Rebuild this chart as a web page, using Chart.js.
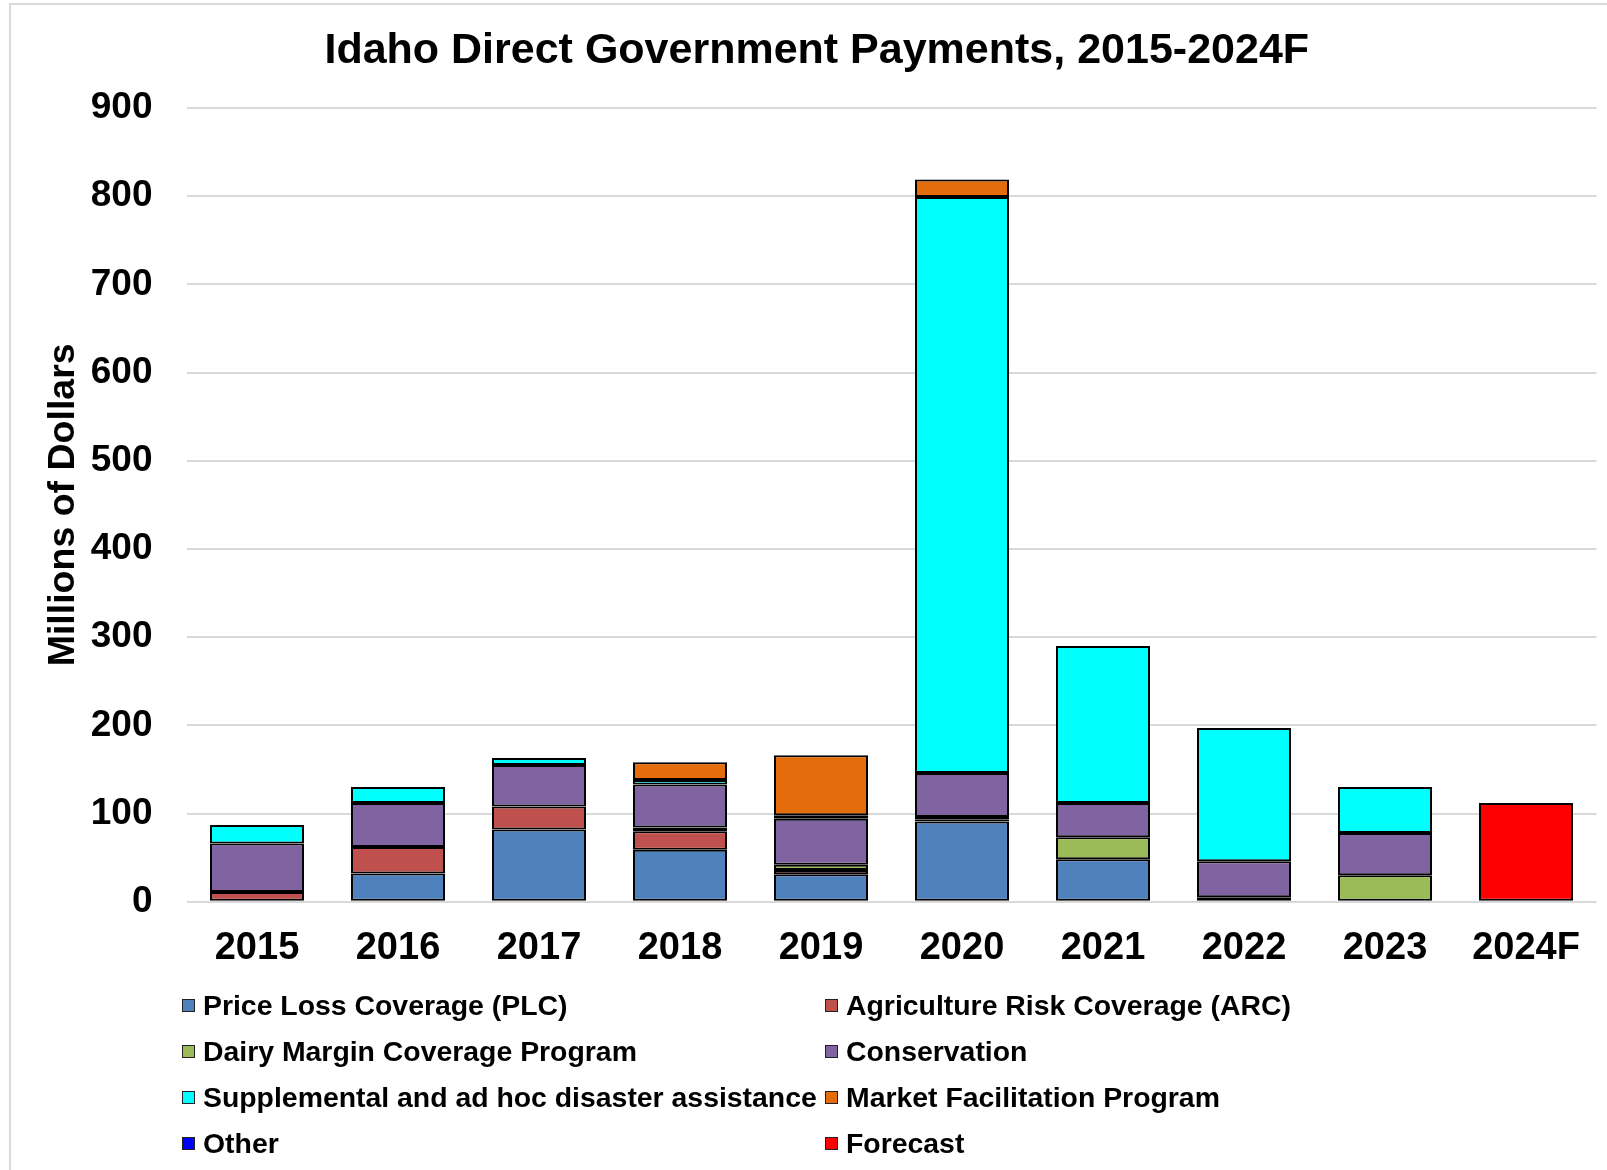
<!DOCTYPE html>
<html>
<head>
<meta charset="utf-8">
<script src="https://cdn.jsdelivr.net/npm/chart.js@4.4.1/dist/chart.umd.min.js"></script>
<style>
  html, body { margin: 0; padding: 0; background: #ffffff; }
  #wrap { position: relative; width: 1607px; height: 1170px; overflow: hidden; font-family: "Liberation Sans", Arial, sans-serif; }
  #frame { position: absolute; left: 9px; top: 3px; width: 1700px; height: 1300px; border-top: 2px solid #d9d9d9; border-left: 2px solid #d9d9d9; box-sizing: border-box; }
  canvas { position: absolute; left: 0; top: 0; }
  #legend { position: absolute; left: 0; top: 0; width: 1607px; height: 1170px; pointer-events: none; }
  .li { position: absolute; height: 40px; display: flex; align-items: center; font-weight: bold; font-size: 28.4px; color: #000; white-space: nowrap; }
  .li .box { width: 11px; height: 11px; border: 1px solid #222; margin-right: 8px; flex: none; }
</style>
</head>
<body>
<div id="wrap">
  <div id="frame"></div>
  <canvas id="c" width="1607" height="1170"></canvas>
  <div id="legend"></div>
</div>
<script>
const titleText = "Idaho Direct Government Payments, 2015-2024F";
const yAxisTitle = "Millions of Dollars";
const categories = ["2015", "2016", "2017", "2018", "2019", "2020", "2021", "2022", "2023", "2024F"];

const plc          = [1, 32, 82, 59, 31, 91, 48, 1, null, null];
const arc          = [10, 30, 26, 21, 5, 2, null, 2, null, null];
const dairy        = [null, null, null, 4, 6, 3, 25, 2, 30, null];
const conservation = [55, 50, 47, 49, 52, 50, 39, 41, 48, null];
const supplemental = [21, 18, 8, 5, 4, 653, 178, 151, 52, null];
const mfp          = [null, null, null, 20, 68, 20, null, null, null, null];
const other        = [null, null, null, null, null, null, null, null, null, null];
const forecast     = [null, null, null, null, null, null, null, null, null, 112];

const seriesNames = [
  "Price Loss Coverage (PLC)",
  "Agriculture Risk Coverage (ARC)",
  "Dairy Margin Coverage Program",
  "Conservation",
  "Supplemental and ad hoc disaster assistance",
  "Market Facilitation Program",
  "Other",
  "Forecast"
];
const seriesColors = ["#4f81bd", "#c0504d", "#9bbb59", "#8064a2", "#00ffff", "#e46c0a", "#0000ff", "#ff0000"];
const seriesValues = [plc, arc, dairy, conservation, supplemental, mfp, other, forecast];

const FONT = '"Liberation Sans", Arial, sans-serif';

const datasets = seriesNames.map((name, i) => ({
  label: name,
  data: seriesValues[i],
  backgroundColor: seriesColors[i],
  borderColor: "#000000",
  borderWidth: 2,
  borderSkipped: false,
  barPercentage: 0.667,
  categoryPercentage: 1.0
}));

new Chart(document.getElementById("c"), {
  type: "bar",
  data: { labels: categories, datasets: datasets },
  options: {
    responsive: false,
    animation: false,
    devicePixelRatio: 1,
    layout: { padding: { left: 37, right: 10.5, top: 0, bottom: 208.3 } },
    plugins: {
      legend: { display: false },
      tooltip: { enabled: false },
      title: {
        display: true,
        text: titleText,
        color: "#000",
        font: { family: FONT, size: 43, weight: "bold", lineHeight: 1.2 },
        padding: { top: 25.5, bottom: 30.9 }
      }
    },
    scales: {
      x: {
        stacked: true,
        grid: { display: false, drawTicks: false },
        border: { display: false },
        ticks: { color: "#000", font: { family: FONT, size: 38, weight: "bold", lineHeight: 1.2 }, padding: 24, maxRotation: 0, autoSkip: false },
        afterFit: (s) => { s.height = 60; }
      },
      y: {
        stacked: true,
        min: 0,
        max: 900,
        ticks: { stepSize: 100, color: "#000", font: { family: FONT, size: 37, weight: "bold", lineHeight: 1.2 }, padding: 34 },
        grid: { color: "#d9d9d9", lineWidth: 2, drawTicks: false },
        border: { display: false },
        title: {
          display: true,
          text: yAxisTitle,
          color: "#000",
          font: { family: FONT, size: 37.5, weight: "bold", lineHeight: 1.2 },
          padding: { top: 4, bottom: 0 }
        },
        afterFit: (s) => { s.width = 149.5; }
      }
    }
  }
});

// Legend (two columns, row-wise order)
const legend = document.getElementById("legend");
const colX = [182, 825];
const rowY = [1005, 1051, 1097, 1143];
seriesNames.forEach((name, i) => {
  const col = i % 2, row = Math.floor(i / 2);
  const el = document.createElement("div");
  el.className = "li";
  el.style.left = colX[col] + "px";
  el.style.top = (rowY[row] - 20) + "px";
  const box = document.createElement("span");
  box.className = "box";
  box.style.background = seriesColors[i];
  const txt = document.createElement("span");
  txt.textContent = name;
  el.appendChild(box);
  el.appendChild(txt);
  legend.appendChild(el);
});
</script>
</body>
</html>
